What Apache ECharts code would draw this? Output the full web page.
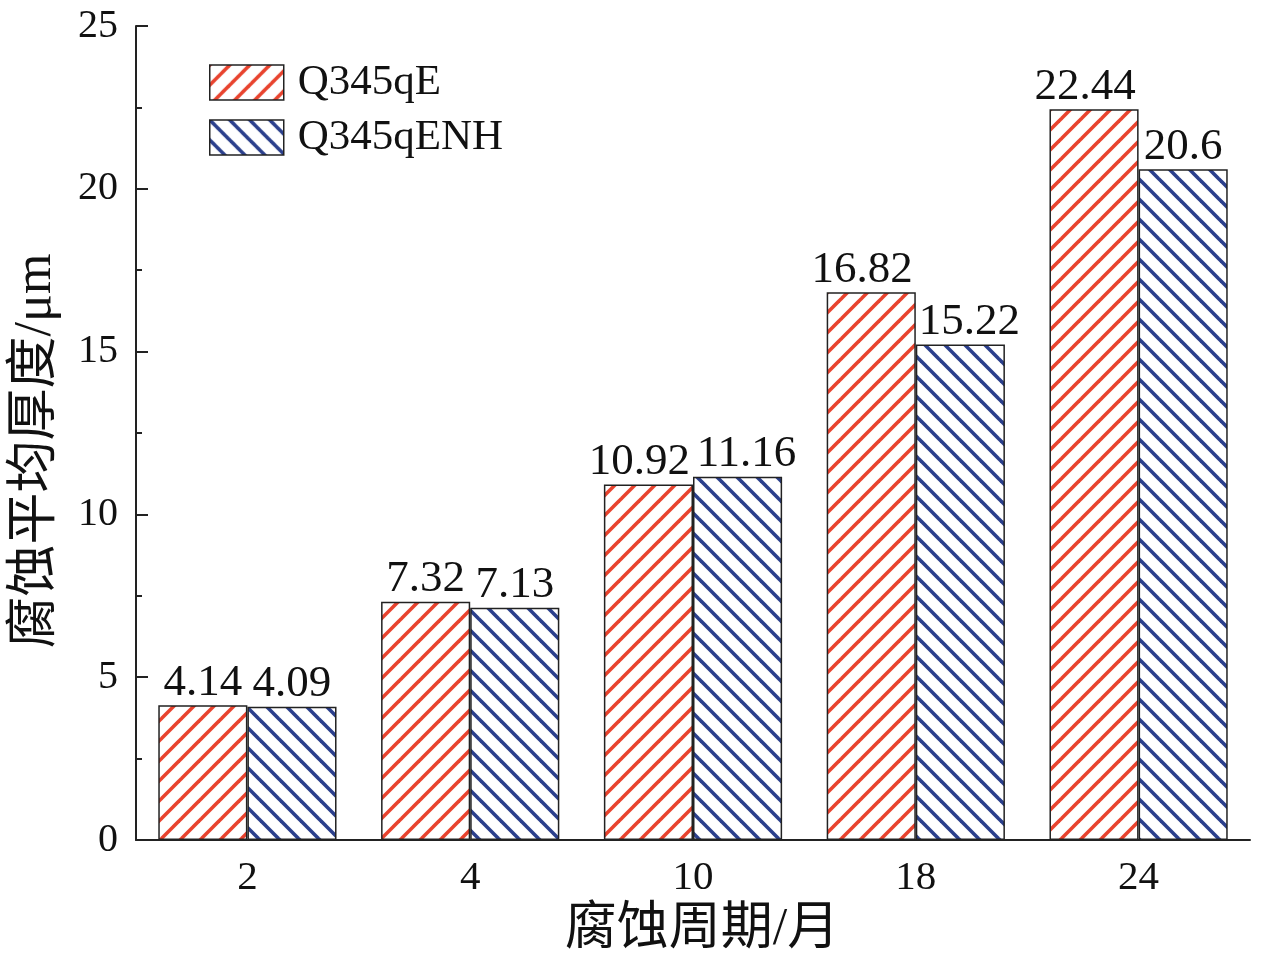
<!DOCTYPE html>
<html>
<head>
<meta charset="utf-8">
<script src="https://cdn.jsdelivr.net/npm/echarts@6/dist/echarts.min.js"></script>
<style>html,body{margin:0;padding:0;background:#fff}#c{width:1266px;height:964px}</style>
</head>
<body>
<div id="c"></div>
<script>
const categories = ['2', '4', '10', '18', '24'];
const seriesNames = ['Q345qE', 'Q345qENH'];
const valuesQ345qE = [4.14, 7.32, 10.92, 16.82, 22.44];
const valuesQ345qENH = [4.09, 7.13, 11.16, 15.22, 20.6];
const labelsQ345qE = ['4.14', '7.32', '10.92', '16.82', '22.44'];
const labelsQ345qENH = ['4.09', '7.13', '11.16', '15.22', '20.6'];

function hatch(color, dir) {
  const s = 20;
  const c = document.createElement('canvas');
  c.width = s; c.height = s;
  const g = c.getContext('2d');
  g.fillStyle = '#fff';
  g.fillRect(0, 0, s, s);
  g.strokeStyle = color;
  g.lineWidth = 3.6;
  g.lineCap = 'butt';
  for (let k = -1; k <= 1; k++) {
    g.beginPath();
    if (dir > 0) {
      g.moveTo(-s + k * s, 2 * s); g.lineTo(2 * s + k * s, -s);
    } else {
      g.moveTo(-s + k * s, -s); g.lineTo(2 * s + k * s, 2 * s);
    }
    g.stroke();
  }
  return { image: c, repeat: 'repeat' };
}

const serif = '"Liberation Serif", "Noto Sans CJK SC", serif';
const chart = echarts.init(document.getElementById('c'), null, { renderer: 'canvas' });

// wide labels are nudged apart so neighbouring labels don't collide
function mkData(values, labels, side) {
  return values.map((v, i) => ({
    value: v,
    label: {
      show: true, position: 'top', distance: 0,
      color: '#111', fontFamily: serif, fontSize: 45,
      formatter: labels[i],
      offset: [labels[i].length >= 5 ? side * 9 : 0, 0]
    }
  }));
}

chart.setOption({
  animation: false,
  backgroundColor: '#fff',
  grid: { left: 136, right: 16, top: 26, bottom: 124 },
  legend: {
    left: 209, top: 61, orient: 'vertical', padding: 0,
    icon: 'rect',
    itemWidth: 74, itemHeight: 35, itemGap: 12,
    itemStyle: { borderColor: '#222', borderWidth: 1.5 },
    textStyle: { fontFamily: serif, fontSize: 43, color: '#111', padding: [0, 0, 0, 9] },
    data: seriesNames
  },
  xAxis: {
    type: 'category', data: categories,
    name: '腐蚀周期/月', nameLocation: 'middle', nameGap: 63,
    nameTextStyle: { fontFamily: serif, fontSize: 52, color: '#111', padding: [0, 0, 0, 18] },
    axisLine: { lineStyle: { color: '#222', width: 2 } },
    axisTick: { inside: true, length: 10, lineStyle: { color: '#222', width: 2 } },
    axisLabel: { fontFamily: serif, fontSize: 41, color: '#111', margin: 18 }
  },
  yAxis: {
    type: 'value', min: 0, max: 25, interval: 5,
    name: '腐蚀平均厚度/μm', nameLocation: 'middle', nameGap: 74,
    nameTextStyle: { fontFamily: serif, fontSize: 52, color: '#111', padding: [0, 36, 0, 0] },
    axisLine: { show: true, lineStyle: { color: '#222', width: 2 } },
    axisTick: { show: true, inside: true, length: 12, lineStyle: { color: '#222', width: 2 } },
    minorTick: { show: true, splitNumber: 2, length: 6, lineStyle: { color: '#222', width: 2 } },
    splitLine: { show: false },
    axisLabel: { fontFamily: serif, fontSize: 40, color: '#111', margin: 18 }
  },
  series: [
    {
      name: seriesNames[0], type: 'bar', data: mkData(valuesQ345qE, labelsQ345qE, -1),
      barGap: '0%', barCategoryGap: '20%',
      itemStyle: { color: hatch('#e8432e', 1), borderColor: '#222', borderWidth: 1.5 }
    },
    {
      name: seriesNames[1], type: 'bar', data: mkData(valuesQ345qENH, labelsQ345qENH, 1),
      barGap: '0%', barCategoryGap: '20%',
      itemStyle: { color: hatch('#2b3f8c', -1), borderColor: '#222', borderWidth: 1.5 }
    }
  ]
});
</script>
</body>
</html>
